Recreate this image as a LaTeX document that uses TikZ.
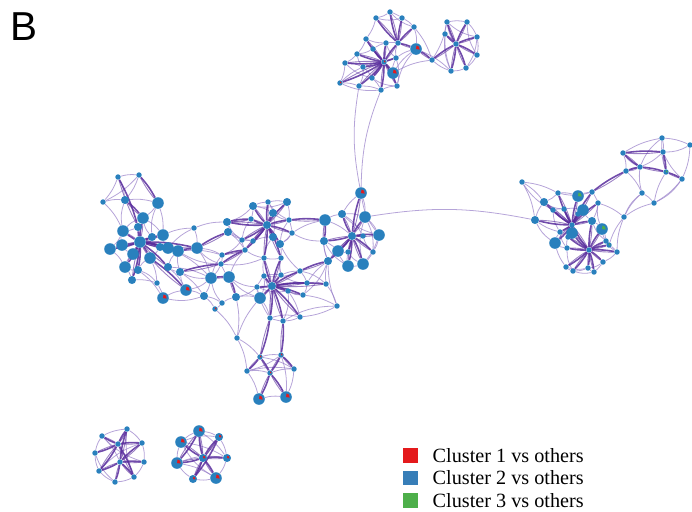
\documentclass[tikz,border=0pt]{standalone}
\usepackage{fontspec}
\setmainfont{Liberation Serif}
\newfontfamily\panelfont{Liberation Sans}
\usetikzlibrary{positioning,backgrounds}
\definecolor{nodeblue}{RGB}{41,128,189}
\definecolor{linkdark}{RGB}{88,44,156}
\definecolor{linklight}{RGB}{150,125,200}
\definecolor{cred}{RGB}{228,26,28}
\definecolor{cblue}{RGB}{55,126,184}
\definecolor{cgreen}{RGB}{77,175,74}
\tikzset{
  big/.style={circle,fill=nodeblue,inner sep=0pt,minimum size=6.6pt},
  mid/.style={circle,fill=nodeblue,inner sep=0pt,minimum size=4.6pt},
  tiny/.style={circle,fill=nodeblue,inner sep=0pt,minimum size=3.1pt},
  strong/.style={draw=linkdark,line width=0.9pt,opacity=0.85},
  strongb/.style={draw=linkdark,line width=0.5pt,opacity=0.6},
  weak/.style={draw=linklight,line width=0.45pt,opacity=0.7},
  keybox/.style={rectangle,inner sep=0pt,minimum size=8.5pt},
  keytext/.style={inner sep=0pt,font=\fontsize{11.5}{13}\selectfont}
}
\def\slice#1#2#3{\fill[#2] (#1.center) -- ++(-10:#3) arc[start angle=-10,end angle=80,radius=#3] -- cycle;}

\begin{document}
\begin{tikzpicture}[x=0.02cm,y=-0.02cm]
\useasboundingbox (0,0) rectangle (692,511);
\node[font=\panelfont\fontsize{23}{23}\selectfont,inner sep=0pt] (lblB) at (24,27) {B};

\foreach \n/\x/\y in {a5/158/203,b1/143/218,b3/123/231,b4/140/242,b5/122/245,b6/110/249,
  b7/133/254,b9/163/235,b11/168/248,b12/178/251,b13/150/258,b14/125/267,b20/163/298,
  b21/186/290,b22/197/248,c1/211/278,c2/229/277,c7/260/298,f1/325/220,f4/361/193,
  f5/365/217,f8/379/235,f9/338/251,f13/348/266,f14/363/264,t9/416/49,t15/393/73,
  r3/578/196,r8/583/210,r15/572/233,r17/602/229,r20/555/243,g7/259/399,g8/286/397,
  q1/199/431,q3/181/442,q6/177/463,q8/216/478}
  \node[big] (\n) at (\x,\y) {};
\foreach \n/\x/\y in {a4/125/200,b2/138/227,b8/152/237,b10/160/247,b15/138/270,b16/132/280,
  b17/168/267,b18/180/272,c3/204/296,c6/236/297,c8/227/222,c9/228/232,d1/253/206,
  d3/287/202,d4/273/213,d7/267/225,d10/273/237,d11/280/244,e4/272/286,f2/324/241,
  f3/342/214,f6/352/236,f12/328/261,r5/544/202,r11/535/220,r12/592/221,q2/219/437,
  q4/203/458,q5/227/458,q7/193/479}
  \node[mid] (\n) at (\x,\y) {};
\foreach \n/\x/\y in {a1/118/177,a2/139/175,a3/103/202,b19/157/283,b23/194/228,c4/215/309,
  c5/222/303,c10/222/255,c11/221/264,d2/268/202,d5/251/219,d6/289/220,d8/242/240,
  d9/253/241,d12/292/233,d13/245/250,d14/264/258,d15/281/258,e1/264/276,e2/281/275,
  e3/300/271,e5/257/287,e6/288/291,e7/303/295,e8/307/283,e9/326/284,e10/337/306,
  e11/300/317,e12/270/318,e13/283/321,f7/363/236,f10/348/252,f11/373/252,
  g1/237/338,g2/260/357,g3/281/355,g4/247/371,g5/270/373,g6/294/369,
  t1/390/12,t2/376/18,t3/402/18,t4/414/27,t5/366/39,t6/386/43,t7/398/43,t8/373/49,
  t10/357/54,t11/396/58,t12/384/62,t13/345/63,t14/363/67,t16/372/78,t17/340/83,
  t18/359/86,t19/381/90,t20/397/86,t21/432/60,u1/447/22,u2/467/22,u3/445/34,
  u4/477/37,u5/456/44,u6/477/55,u7/451/71,u8/466/68,
  r1/522/182,r2/558/193,r4/592/192,r6/553/210,r7/564/209,r9/598/203,r10/578/214,
  r13/572/225,r14/560/232,r16/568/237,r18/606/241,r19/609/245,r21/567/248,
  r22/589/250,r23/617/252,r24/566/267,r25/573/271,r26/588/268,r27/594/272,r28/603/262,
  s1/623/153,s2/662/138,s3/663/152,s4/640/167,s5/626/171,s6/666/172,s7/682/179,
  s8/642/193,s9/654/203,s10/624/217,s11/690/145,
  p1/127/429,p2/102/436,p3/142/443,p4/118/444,p5/95/453,p6/120/462,p7/144/462,
  p8/99/471,p9/134/477,p10/115/482}
  \node[tiny] (\n) at (\x,\y) {};

\begin{pgfonlayer}{background}
\foreach \a/\b in {a1/a2,a1/a3,a1/a4,a2/a4,a2/a3,a3/a4,a4/a5,a3/b3,a5/b9,a5/b1,
  b3/b6,b6/b14,b14/b16,b16/b19,b19/b20,b20/b21,b21/b18,b18/b12,b9/b23,b23/b22,b23/c8,
  b17/b21,b15/b20,b13/b19,b11/c1,b22/c1,b22/c10,b18/c3,b1/b9,b2/b3,b10/b13,b12/c10,
  b17/c1,b21/c3,b11/b23,
  c10/c11,c11/c1,c1/c3,c3/c5,c5/c4,c6/c7,c4/g1,c6/g1,c5/c6,c7/e5,c8/c9,c9/d8,c9/d13,
  c2/c11,c2/d13,c3/c4,c1/c10,
  d1/d2,d2/d3,d3/d6,d6/d12,d12/d11,d11/d15,d15/d14,d14/d13,d13/d8,d1/d5,d5/c8,d1/d4,
  d3/d4,d4/d10,d9/d10,d12/f1,d8/d9,d2/d4,
  e1/e2,e2/e3,e3/e8,e8/e9,e9/e10,e10/e11,e11/e13,e13/e12,e12/e5,e5/e1,e8/f12,e9/f12,
  e10/f12,e7/e10,e6/e11,e1/d14,e2/d15,e3/d11,c7/e12,
  g1/g2,g2/g3,g1/g4,g4/g5,g5/g6,g4/g7,g6/g8,g7/g8,g4/g6,g2/g6,g3/g4,g3/g8,g1/c7,
  f1/f3,f3/f4,f4/f5,f5/f8,f8/f11,f11/f14,f14/f13,f13/f10,f10/f9,f9/f12,f12/f2,f2/f9,
  f1/f6,f4/t18,f4/t19,f5/r11,f3/f5,f8/f14,
  t1/t2,t1/t3,t3/t4,t4/t9,t2/t5,t5/t10,t10/t13,t13/t17,t17/t18,t18/t19,t19/t20,t20/t15,
  t15/t9,t11/t9,t6/t7,t8/t6,t13/t14,t14/t16,t16/t19,t17/t14,t4/t21,t15/t21,t8/t10,t6/t5,
  u1/u2,u2/u4,u4/u6,u6/u8,u8/u7,u7/u3,u3/u1,u1/t21,u7/t21,t9/u7,u3/u5,
  r1/r2,r1/r5,r1/r11,r2/r3,r3/r4,r4/r9,r9/r12,r12/r17,r17/r18,r18/r19,r19/r23,r23/r28,
  r28/r27,r27/r26,r26/r25,r25/r24,r24/r20,r20/r14,r14/r11,r11/r5,r5/r6,r6/r7,r7/r8,
  r8/r10,r9/s10,r23/s10,r19/s10,r2/r5,
  s1/s2,s2/s3,s2/s11,s11/s7,s7/s3,s5/s8,s8/s9,s8/s4,s9/s6,s10/s9,s10/s8,s1/s5,s3/s4,
  s7/s9,s6/s2,
  p1/p3,p3/p7,p7/p9,p9/p10,p10/p8,p8/p5,p5/p2,p2/p1,p1/p4,p2/p6,
  q1/q2,q2/q5,q5/q8,q8/q7,q7/q6,q6/q3,q3/q1,q3/q5,q1/q5,q6/q8}
  \draw[weak] (\a) to[bend left=10] (\b);
\foreach \a/\b in {b1/b3,b1/b8,b3/b5,b5/b7,b7/b14,b9/b11,b11/b12,b12/b17,b17/b18,
  b13/b15,b15/b16,b8/b9,b10/b11,a5/b8,a4/b3,b6/b5,b14/b15,b19/b15,b22/c11,b12/c11,
  b21/c1,b20/c3,b18/c1,
  c8/d1,c8/d8,c9/d9,c10/d8,c11/d14,c2/e5,c1/c5,c2/c7,c6/e5,c7/e1,
  d1/d3,d2/d6,d4/d6,d5/d8,d9/d13,d10/d11,d10/d14,d11/d12,d12/f2,d15/e2,d6/d11,
  e1/e3,e2/e8,e5/e6,e6/e7,e7/e8,e9/e3,e11/e12,e12/e1,e13/e6,e10/e13,e7/f12,
  f1/f12,f2/f13,f3/f8,f5/f14,f9/f13,f10/f14,f11/f5,f4/f8,f7/f11,f7/f3,
  t1/t4,t2/t3,t5/t8,t10/t14,t13/t16,t17/t19,t11/t15,t20/t11,t6/t11,t7/t11,t9/t20,
  t18/t14,t16/t20,
  u1/u4,u2/u6,u3/u7,u8/u4,u1/u5,
  r1/r6,r2/r4,r5/r7,r6/r14,r8/r12,r9/r17,r10/r15,r11/r20,r14/r21,r15/r16,r16/r21,
  r17/r19,r18/r23,r20/r21,r24/r26,r25/r27,r26/r28,r21/r25,r12/r18,
  s1/s4,s2/s4,s3/s11,s5/s4,s8/s10,s9/s7,
  p1/p9,p2/p7,p3/p8,p5/p10,
  q1/q8,q2/q3,q3/q8,q5/q6}
  \draw[weak] (\a) to[bend right=14] (\b);
\foreach \a/\b in {a1/b2,a4/b1,a2/a5,
  b4/b1,b4/b2,b4/b3,b4/b5,b4/b6,b4/b7,b4/b8,b4/b9,b4/b10,b4/b11,b4/b12,b4/b13,b4/b14,
  b4/b15,b4/b16,b4/b17,b4/b22,b12/b22,b13/b21,
  b22/c9,b18/c11,c11/d13,c8/d5,c10/d13,c1/c2,c2/c6,
  d7/d1,d7/d2,d7/d3,d7/d4,d7/d5,d7/d6,d7/d8,d7/d9,d7/d10,d7/d11,d7/d12,d7/d13,d7/d14,
  d7/d15,d7/c8,d6/f1,
  e4/e1,e4/e2,e4/e3,e4/e5,e4/e6,e4/e7,e4/e8,e4/e9,e4/e11,e4/e12,e4/e13,e4/d14,e4/d15,
  e4/c7,e3/f12,e13/g3,e12/g2,
  g2/g5,g3/g5,g5/g7,g2/g4,g3/g6,g5/g8,
  f6/f2,f6/f3,f6/f4,f6/f5,f6/f7,f6/f8,f6/f9,f6/f10,f6/f11,f6/f13,f6/f14,f6/f12,f1/f2,
  t12/t5,t12/t6,t12/t8,t12/t10,t12/t11,t12/t13,t12/t14,t12/t15,t12/t16,t12/t17,
  t12/t18,t12/t19,t12/t20,t12/t7,t7/t1,t7/t2,t7/t3,t7/t4,t7/t9,t9/t21,t21/u5,
  u5/u1,u5/u2,u5/u3,u5/u4,u5/u6,u5/u7,u5/u8,
  r13/r2,r13/r3,r13/r4,r13/r5,r13/r6,r13/r7,r13/r8,r13/r9,r13/r10,r13/r11,r13/r12,
  r13/r14,r13/r15,r13/r16,r13/r20,
  r22/r15,r22/r16,r22/r17,r22/r18,r22/r19,r22/r21,r22/r23,r22/r24,r22/r25,r22/r26,
  r22/r27,r22/r28,r22/r12,r22/r13,
  r4/s5,s5/s4,s4/s6,s1/s3,s3/s6,s6/s7,s4/s1,
  p6/p1,p6/p3,p6/p7,p6/p9,p6/p10,p4/p2,p4/p5,p4/p8,p4/p1,p4/p3,p4/p9,p6/p8,
  q4/q1,q4/q2,q4/q3,q4/q5,q4/q6,q4/q7,q4/q8,q2/q7,q1/q6}
  {\draw[strong] (\a) to[bend left=6] (\b);
   \draw[strongb] (\a) to[bend right=5] (\b);}
\end{pgfonlayer}

\foreach \n/\r in {b20/2.1pt,b21/2.1pt,f4/2.1pt,t9/2.1pt,t15/2.1pt,g7/2.1pt,g8/2.1pt,
  q1/2.1pt,q3/2.1pt,q6/2.1pt,q8/2.1pt,q2/1.4pt,q4/1.4pt,q5/1.4pt,q7/1.4pt,
  c4/1pt,g2/1pt,g3/1pt,g5/1pt,t12/1pt,t17/1pt}
  {\slice{\n}{cred}{\r}}
\foreach \n/\r in {r3/2.1pt,r17/2.1pt,r19/1pt,s6/1pt}
  {\slice{\n}{cgreen}{\r}}

\node[keybox,fill=cred] (k1) at (410.5,455.5) {};
\node[keybox,fill=cblue] (k2) at (410.5,478) {};
\node[keybox,fill=cgreen] (k3) at (410.5,500.5) {};
\node[keytext,right=8pt of k1] (k1t) {Cluster 1 vs others};
\node[keytext,right=8pt of k2] (k2t) {Cluster 2 vs others};
\node[keytext,right=8pt of k3] (k3t) {Cluster 3 vs others};
\end{tikzpicture}
\end{document}
